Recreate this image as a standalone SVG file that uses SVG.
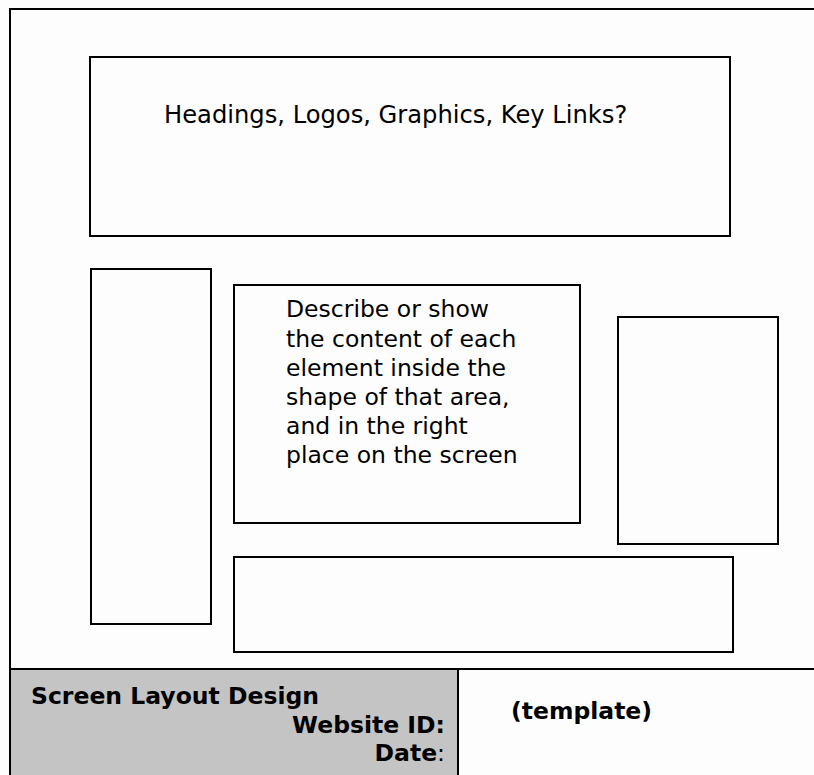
<svg xmlns="http://www.w3.org/2000/svg" width="814" height="775" viewBox="0 0 814 775">
  <style>
    .frame { fill: none; stroke: #000; stroke-width: 2; }
    .box { fill: none; stroke: #000; stroke-width: 2; }
    .txt { font-family: "DejaVu Sans", Verdana, sans-serif; font-size: 23.5px; fill: #000; }
    .bold { font-weight: bold; }
  </style>
  <rect x="0" y="0" width="814" height="775" fill="#fdfdfd"/>

  <!-- title block -->
  <g id="title-block">
    <rect x="10" y="669" width="448" height="106" fill="#c4c4c4"/>
    <text class="txt bold" x="31" y="704">Screen Layout Design</text>
    <text class="txt bold" x="445" y="733" text-anchor="end">Website ID:</text>
    <text class="txt" x="445" y="761" text-anchor="end"><tspan class="bold">Date</tspan>:</text>
    <text class="txt bold" x="511" y="719">(template)</text>
  </g>

  <!-- page frame -->
  <g id="frame">
    <path class="frame" d="M10 775 V9 H814"/>
    <path class="frame" d="M10 669 H814"/>
    <path class="frame" d="M458 669 V775"/>
  </g>

  <g id="header">
    <rect class="box" x="90" y="57" width="640" height="179"/>
    <text class="txt" x="164" y="123" style="font-size:24.2px">Headings, Logos, Graphics, Key Links?</text>
  </g>

  <g id="left-column">
    <rect class="box" x="91" y="269" width="120" height="355"/>
  </g>

  <g id="main-content">
    <rect class="box" x="234" y="285" width="346" height="238"/>
    <text class="txt" x="286">
      <tspan x="286" y="317">Describe or show</tspan>
      <tspan x="286" y="347">the content of each</tspan>
      <tspan x="286" y="376">element inside the</tspan>
      <tspan x="286" y="405">shape of that area,</tspan>
      <tspan x="286" y="434">and in the right</tspan>
      <tspan x="286" y="463">place on the screen</tspan>
    </text>
  </g>

  <g id="right-column">
    <rect class="box" x="618" y="317" width="160" height="227"/>
  </g>

  <g id="footer-area">
    <rect class="box" x="234" y="557" width="499" height="95"/>
  </g>

  <g id="connectors"/>
</svg>
